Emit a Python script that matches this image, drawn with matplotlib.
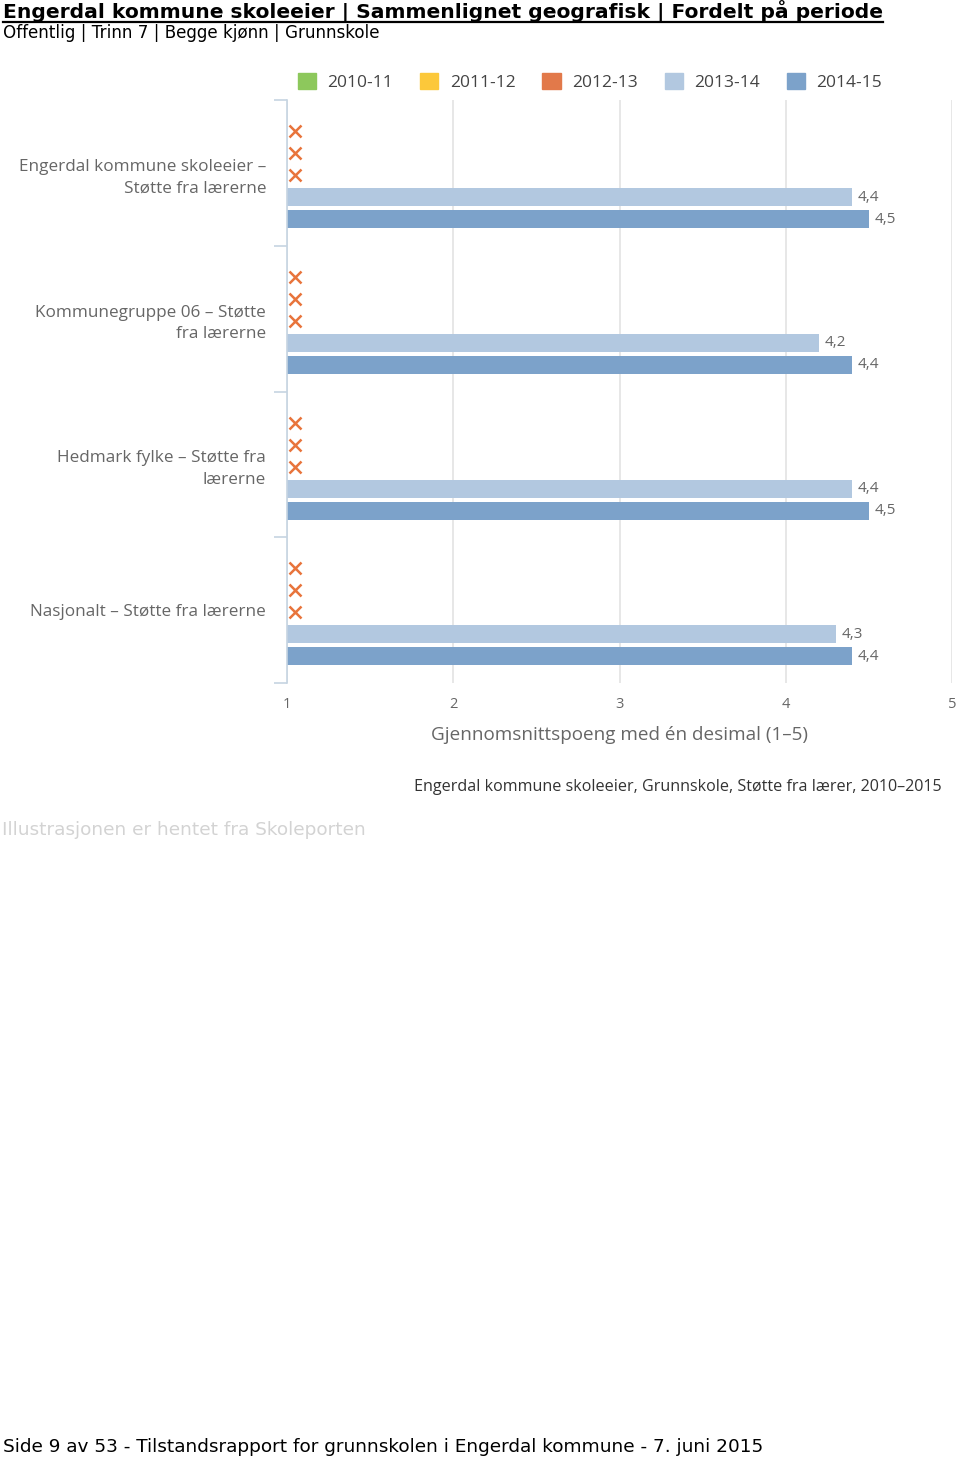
import matplotlib
matplotlib.use('Agg')
import matplotlib.pyplot as plt
import numpy as np
from matplotlib.patches import Patch
from matplotlib.lines import Line2D

# --- data ---
categories = ['Engerdal kommune skoleeier –\nStøtte fra lærerne',
              'Kommunegruppe 06 – Støtte\nfra lærerne',
              'Hedmark fylke – Støtte fra\nlærerne',
              'Nasjonalt – Støtte fra lærerne']
periods = ['2010-11', '2011-12', '2012-13', '2013-14', '2014-15']
v_2010_11 = [None, None, None, None]
v_2011_12 = [None, None, None, None]
v_2012_13 = [None, None, None, None]
v_2013_14 = [4.4, 4.2, 4.4, 4.3]
v_2014_15 = [4.5, 4.4, 4.5, 4.4]
series = [v_2010_11, v_2011_12, v_2012_13, v_2013_14, v_2014_15]
colors = ['#8DC85C', '#FCC83A', '#E2794A', '#B2C8E0', '#7CA2CA']
x_ticks = [1, 2, 3, 4, 5]

font = 'Open Sans'
grey = '#666666'

fig = plt.figure(figsize=(9.6, 14.61), dpi=100)
ax = fig.add_axes([287 / 960, 1 - 683 / 1461, 665 / 960, 583 / 1461])

slot = 0.151
shift = 0.015
bar_h = 0.124
for k, (vals, col) in enumerate(zip(series, colors)):
    for i, v in enumerate(vals):
        y = i + (k - 2) * slot + shift
        if v is None:
            ax.plot(1.05, y, marker='x', color='#E8743B', markersize=8,
                    markeredgewidth=1.8, linestyle='none', zorder=3)
        else:
            ax.barh(y, v - 1, left=1, height=bar_h, color=col, zorder=2)
            ax.annotate(f'{v:.1f}'.replace('.', ','), (v, y), xytext=(4, 0),
                        textcoords='offset points', va='center', ha='left',
                        fontsize=11, color=grey, family=font)

ax.set_xlim(1, 5)
ax.set_ylim(3.5, -0.5)
ax.set_xticks(x_ticks)
ax.set_xticklabels([str(t) for t in x_ticks], fontsize=10.5, color=grey, family=font)
ax.tick_params(axis='x', length=0, pad=10)
ax.xaxis.grid(True, color='#E3E3E3', linewidth=1.2, zorder=0)
ax.set_axisbelow(True)

ax.set_yticks([-0.5, 0.5, 1.5, 2.5, 3.5])
ax.set_yticklabels([])
ax.tick_params(axis='y', which='major', length=9.5, color='#C6D4E2', width=1.2)
ax.set_yticks(range(len(categories)), minor=True)
ax.set_yticklabels(categories, minor=True, fontsize=12.3, color=grey,
                   family=font, linespacing=1.45)
ax.tick_params(axis='y', which='minor', length=0, pad=15)

for s in ['top', 'right', 'bottom']:
    ax.spines[s].set_visible(False)
ax.spines['left'].set_color('#C6D4E2')
ax.spines['left'].set_linewidth(1.2)

ax.set_xlabel('Gjennomsnittspoeng med én desimal (1–5)', fontsize=13.6,
              color=grey, family=font, labelpad=10)

handles = [Patch(color=c, label=p) for p, c in zip(periods, colors)]
fig.legend(handles=handles, loc='center', bbox_to_anchor=(590 / 960, 1 - 82 / 1461),
           ncol=5, frameon=False, prop={'family': font, 'size': 12.5},
           handlelength=1.05, handleheight=1.05, handletextpad=0.65,
           columnspacing=1.55, labelcolor='#444444')

fig.text(942 / 960, 1 - 787 / 1461,
         'Engerdal kommune skoleeier, Grunnskole, Støtte fra lærer, 2010–2015',
         ha='right', va='center', fontsize=11.6, color='#333333', family=font)

fig.text(2 / 960, 1 - 830 / 1461, 'Illustrasjonen er hentet fra Skoleporten',
         ha='left', va='center', fontsize=13.3, color='#D3D3D3', family='DejaVu Sans')

title = fig.text(3 / 960, 1 - 12 / 1461,
                 'Engerdal kommune skoleeier | Sammenlignet geografisk | Fordelt på periode',
                 ha='left', va='center', fontsize=14.6, fontweight='bold',
                 color='black', family='DejaVu Sans')
fig.text(3 / 960, 1 - 33 / 1461, 'Offentlig | Trinn 7 | Begge kjønn | Grunnskole',
         ha='left', va='center', fontsize=12.1, color='black', family='DejaVu Sans')

fig.text(3 / 960, 1 - 1447 / 1461,
         'Side 9 av 53 - Tilstandsrapport for grunnskolen i Engerdal kommune - 7. juni 2015',
         ha='left', va='center', fontsize=13.3, color='black', family='DejaVu Sans')

# underline for the title
renderer = fig.canvas.get_renderer()
bb = title.get_window_extent(renderer).transformed(fig.transFigure.inverted())
fig.add_artist(Line2D([bb.x0, bb.x1], [bb.y0 + 0.0007, bb.y0 + 0.0007],
                      color='black', linewidth=1.6, transform=fig.transFigure))

fig.savefig('out.png', dpi=100)
